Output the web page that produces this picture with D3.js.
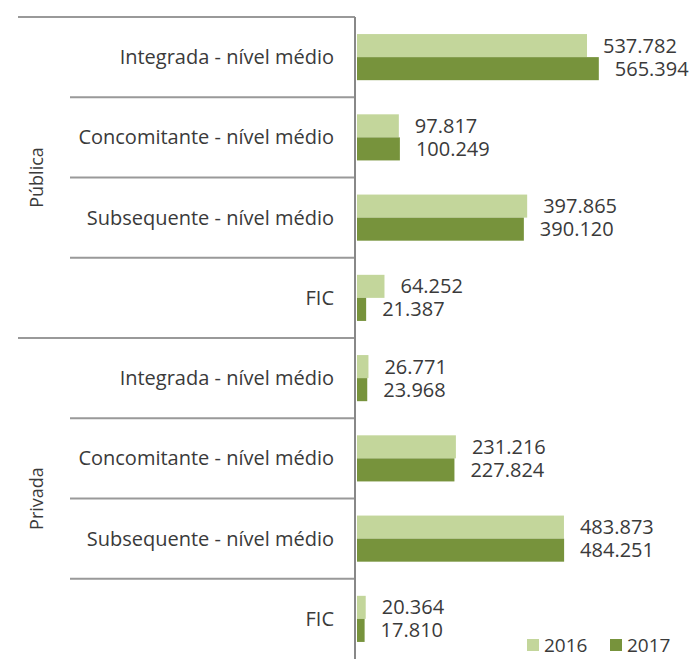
<!DOCTYPE html>
<html>
<head>
<meta charset="utf-8">
<script src="https://d3js.org/d3.v7.min.js"></script>
<style>
body{margin:0;background:#fff}
text{font-family:"Open Sans",Lato,sans-serif;fill:#3a3a3a}
</style>
</head>
<body>
<svg id="chart"></svg>
<script>
var screen = {width:692,height:659}
// data
var groups = ["Pública","Privada"]
var categories = ["Integrada - nível médio","Concomitante - nível médio","Subsequente - nível médio","FIC"]
var years = ["2016","2017"]
var publica2016 = [537782,97817,397865,64252]
var publica2017 = [565394,100249,390120,21387]
var privada2016 = [26771,231216,483873,20364]
var privada2017 = [23968,227824,484251,17810]
var colors = ["#c3d69b","#77933c"]

//rows = group x category
var rows = []
groups.forEach(function(g,gi){
    categories.forEach(function(c,ci){
        var v16 = gi==0 ? publica2016[ci] : privada2016[ci]
        var v17 = gi==0 ? publica2017[ci] : privada2017[ci]
        rows.push({id:g+"|"+c, group:g, cat:c, values:[v16,v17]})
    })
})

var svg = d3.select("#chart")
    .attr("width",screen.width)
    .attr("height",screen.height)

var axisX = 355
var fontSize = "20px"
var yScale = d3.scaleBand()
    .domain(rows.map(function(r){return r.id}))
    .range([17,659])
    .padding(0)

var ySub = d3.scaleBand()
    .domain(years)
    .range([0,yScale.bandwidth()])
    .paddingInner(0)
    .paddingOuter(0.74)

var xScale = d3.scaleLinear()
    .domain([0,600000])
    .range([axisX+2, axisX+2+600000*4.277e-4])

var fmt = function(v){return d3.format(",")(v).replace(/,/g,".")}

//separator lines
var lineColor = "#999"
rows.forEach(function(r,i){
    var y = yScale(r.id)
    var x0 = (i%4==0) ? 18 : 70
    svg.append("line")
        .attr("x1",x0).attr("x2",axisX)
        .attr("y1",y).attr("y2",y)
        .attr("stroke",lineColor).attr("stroke-width",2)
})
svg.append("line")
    .attr("x1",axisX).attr("x2",axisX)
    .attr("y1",17).attr("y2",659)
    .attr("stroke","#888").attr("stroke-width",2)

//category labels
svg.selectAll(".cat")
    .data(rows)
    .enter()
    .append("text")
    .attr("class","cat")
    .attr("x",334)
    .attr("y",function(r){return yScale(r.id)+yScale.bandwidth()/2})
    .attr("dy","0.35em")
    .attr("text-anchor","end")
    .style("font-size",fontSize)
    .text(function(r){return r.cat})

//group labels
groups.forEach(function(g,gi){
    var ids = rows.filter(function(r){return r.group==g})
    var y0 = yScale(ids[0].id)
    var y1 = yScale(ids[ids.length-1].id)+yScale.bandwidth()
    svg.append("text")
        .attr("transform","translate(37,"+((y0+y1)/2)+") rotate(-90)")
        .attr("text-anchor","middle")
        .attr("dy","0.35em")
        .style("font-size","18px")
        .text(g)
})

//bars
var rowG = svg.selectAll(".row")
    .data(rows)
    .enter()
    .append("g")
    .attr("class","row")
    .attr("transform",function(r){return "translate(0,"+yScale(r.id)+")"})

rowG.selectAll("rect")
    .data(function(r){return r.values})
    .enter()
    .append("rect")
    .attr("x",xScale(0))
    .attr("y",function(v,i){return ySub(years[i])})
    .attr("width",function(v){return xScale(v)-xScale(0)})
    .attr("height",ySub.bandwidth())
    .attr("fill",function(v,i){return colors[i]})

rowG.selectAll(".val")
    .data(function(r){return r.values})
    .enter()
    .append("text")
    .attr("class","val")
    .attr("x",function(v){return xScale(v)+16})
    .attr("y",function(v,i){return ySub(years[i])+ySub.bandwidth()/2})
    .attr("dy","0.35em")
    .style("font-size",fontSize)
    .text(fmt)

//legend
var legend = svg.append("g").attr("transform","translate(527,645)")
years.forEach(function(y,i){
    var gx = i*83
    legend.append("rect")
        .attr("x",gx).attr("y",-6)
        .attr("width",12).attr("height",12)
        .attr("fill",colors[i])
    legend.append("text")
        .attr("x",gx+17).attr("y",0)
        .attr("dy","0.35em")
        .style("font-size","19px")
        .text(y)
})
</script>
</body>
</html>
